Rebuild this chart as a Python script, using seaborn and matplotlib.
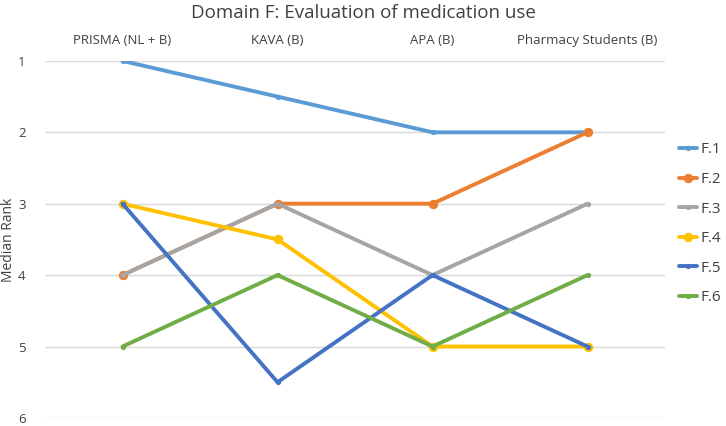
import matplotlib
matplotlib.use("Agg")
import matplotlib.pyplot as plt
import numpy as np
import pandas as pd
import seaborn as sns

categories = ["PRISMA (NL + B)", "KAVA (B)", "APA (B)", "Pharmacy Students (B)"]
series = ["F.1", "F.2", "F.3", "F.4", "F.5", "F.6"]
f1 = [1, 1.5, 2, 2]
f2 = [4, 3, 3, 2]
f3 = [4, 3, 4, 3]
f4 = [3, 3.5, 5, 5]
f5 = [3, 5.5, 4, 5]
f6 = [5, 4, 5, 4]
values = [f1, f2, f3, f4, f5, f6]

colors = ["#5B9BD5", "#ED7D31", "#A5A5A5", "#FFC000", "#4472C4", "#70AD47"]
msizes = [3, 6, 3, 6, 3, 3]

rows = []
for name, vals in zip(series, values):
    for i, v in enumerate(vals):
        rows.append({"series": name, "pos": i, "rank": v})
df = pd.DataFrame(rows)

sns.set_style("white")
plt.rcParams["font.family"] = ["Open Sans", "DejaVu Sans"]

fig = plt.figure(figsize=(7.26, 4.26), dpi=100)
ax = fig.add_axes([0.062, 0.019, 0.854, 0.838])

for name, col, ms in zip(series, colors, msizes):
    sub = df[df["series"] == name]
    sns.lineplot(data=sub, x="pos", y="rank", ax=ax, color=col, linewidth=2.8,
                 marker="o", markersize=ms, markeredgecolor=col, label=name)

ax.set_xlim(-0.5, 3.5)
ax.set_ylim(6, 1)
ax.set_yticks([1, 2, 3, 4, 5, 6])
ax.set_xticks(range(len(categories)))
ax.set_xticklabels(categories)
ax.xaxis.tick_top()
ax.tick_params(axis="both", length=0, labelsize=9.5, colors="#404040")
ax.tick_params(axis="x", pad=10)
ax.tick_params(axis="y", pad=14)
ax.set_xlabel("")
ax.set_ylabel("Median Rank", fontsize=10, color="#404040")
ax.yaxis.set_label_coords(-0.047, 0.5)
ax.grid(axis="y", color="#D9D9D9", linewidth=1)
for s in ax.spines.values():
    s.set_visible(False)

fig.suptitle("Domain F: Evaluation of medication use", fontsize=13.5,
             color="#404040", y=0.99)

ax.legend(loc="upper left", bbox_to_anchor=(1.0, 0.81), frameon=False,
          fontsize=11, handlelength=1.2, handletextpad=0.2, labelspacing=0.95,
          labelcolor="#404040")

fig.savefig("out.png", dpi=100)
